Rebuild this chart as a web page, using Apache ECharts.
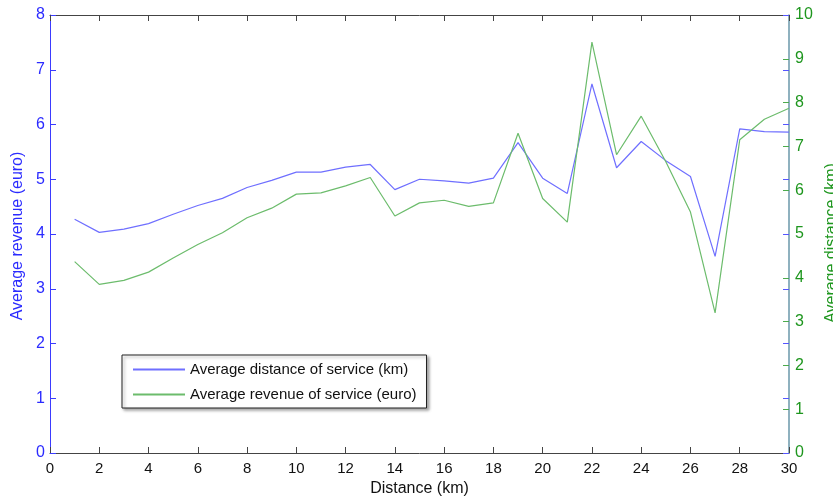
<!DOCTYPE html>
<html>
<head>
<meta charset="utf-8">
<script src="https://cdn.jsdelivr.net/npm/echarts@6/dist/echarts.min.js"></script>
<style>html,body{margin:0;padding:0;background:#fff}#c{width:833px;height:497px}</style>
</head>
<body>
<div id="c"></div>
<script>
const distances = [1,2,3,4,5,6,7,8,9,10,11,12,13,14,15,16,17,18,19,20,21,22,23,24,25,26,27,28,29,30];
const blueValues = [4.27,4.03,4.09,4.19,4.36,4.52,4.65,4.85,4.98,5.13,5.13,5.22,5.27,4.81,5.00,4.97,4.93,5.02,5.67,5.02,4.74,6.74,5.21,5.69,5.34,5.05,3.59,5.92,5.87,5.86];
const greenValues = [4.37,3.85,3.94,4.13,4.45,4.76,5.03,5.37,5.59,5.91,5.94,6.10,6.29,5.41,5.71,5.77,5.63,5.71,7.30,5.81,5.27,9.38,6.81,7.69,6.65,5.50,3.20,7.15,7.62,7.87];
const xTicks = [0,2,4,6,8,10,12,14,16,18,20,22,24,26,28,30];
const leftTicks = [0,1,2,3,4,5,6,7,8];
const rightTicks = [0,1,2,3,4,5,6,7,8,9,10];
const blueName = 'Average distance of service (km)';
const greenName = 'Average revenue of service (euro)';

const FONT = 'Liberation Sans, Arial, sans-serif';
const BLUE_TXT = '#2b2bff';
const GREEN_TXT = '#1e961e';
const BLUE_LINE = '#6f6fff';
const GREEN_LINE = '#6cbc6c';

const gridBox = {left: 50, right: 44, top: 15, bottom: 44, containLabel: false, outerBoundsMode: 'none'};

const chart = echarts.init(document.getElementById('c'), null, {renderer: 'canvas'});
chart.setOption({
  animation: false,
  backgroundColor: '#fff',
  grid: [Object.assign({}, gridBox), Object.assign({}, gridBox)],
  legend: {
    orient: 'vertical',
    left: 122, top: 355,
    padding: [7, 10, 6, 10],
    itemWidth: 52, itemHeight: 14, itemGap: 10,
    backgroundColor: '#fff',
    borderColor: '#222', borderWidth: 1,
    shadowColor: 'rgba(0,0,0,0.35)', shadowBlur: 3, shadowOffsetX: 2, shadowOffsetY: 2,
    itemStyle: {opacity: 0},
    textStyle: {fontFamily: FONT, fontSize: 15, color: '#111'},
    data: [blueName, greenName]
  },
  xAxis: [{
    gridIndex: 0,
    type: 'value', min: xTicks[0], max: xTicks[xTicks.length-1], interval: 2,
    position: 'bottom',
    name: 'Distance (km)', nameLocation: 'middle', nameGap: 28,
    nameTextStyle: {fontFamily: FONT, fontSize: 16, color: '#111'},
    axisLine: {onZero: false, lineStyle: {color: '#444', width: 1}},
    axisTick: {inside: true, length: 6, lineStyle: {color: '#444'}},
    axisLabel: {fontFamily: FONT, fontSize: 15, color: '#111', margin: 8},
    splitLine: {show: false}
  }, {
    gridIndex: 0,
    type: 'value', min: xTicks[0], max: xTicks[xTicks.length-1], interval: 2,
    position: 'top',
    axisLine: {onZero: false, lineStyle: {color: '#444', width: 1}},
    axisTick: {inside: true, length: 6, lineStyle: {color: '#444'}},
    axisLabel: {show: false},
    splitLine: {show: false}
  }, {
    gridIndex: 1,
    type: 'value', min: xTicks[0], max: xTicks[xTicks.length-1], interval: 2,
    show: false
  }],
  yAxis: [{
    gridIndex: 0,
    type: 'value', min: leftTicks[0], max: leftTicks[leftTicks.length-1], interval: 1,
    position: 'left',
    name: 'Average revenue (euro)', nameLocation: 'middle', nameGap: 23, nameRotate: 90,
    nameTextStyle: {fontFamily: FONT, fontSize: 16, color: BLUE_TXT, padding: [0, 4, 0, 0]},
    axisLine: {show: true, onZero: false, lineStyle: {color: '#3b3bff', width: 1}},
    axisTick: {show: true, inside: true, length: 6, lineStyle: {color: '#3b3bff'}},
    axisLabel: {fontFamily: FONT, fontSize: 16, color: BLUE_TXT, margin: 5},
    splitLine: {show: false}
  }, {
    gridIndex: 0,
    type: 'value', min: rightTicks[0], max: rightTicks[rightTicks.length-1], interval: 1,
    position: 'right',
    name: 'Average distance (km)', nameLocation: 'middle', nameGap: 25, nameRotate: 90,
    nameTextStyle: {fontFamily: FONT, fontSize: 16, color: GREEN_TXT, padding: [0, 18, 0, 0]},
    axisLine: {show: true, onZero: false, lineStyle: {color: '#6a97aa', width: 1.5}},
    axisTick: {show: true, inside: true, length: 6, lineStyle: {color: '#4caa4c'}},
    axisLabel: {fontFamily: FONT, fontSize: 16, color: GREEN_TXT, margin: 6},
    splitLine: {show: false}
  }, {
    gridIndex: 1,
    type: 'value', min: leftTicks[0], max: leftTicks[leftTicks.length-1], interval: 1,
    position: 'right',
    axisLine: {show: false, onZero: false},
    axisTick: {show: true, inside: true, length: 6, lineStyle: {color: '#5555ff'}},
    axisLabel: {show: false},
    splitLine: {show: false}
  }],
  series: [{
    name: blueName, type: 'line', xAxisIndex: 0, yAxisIndex: 0,
    data: distances.map((d, i) => [d, blueValues[i]]),
    symbol: 'none', lineStyle: {color: BLUE_LINE, width: 1.2}, itemStyle: {color: BLUE_LINE}
  }, {
    name: greenName, type: 'line', xAxisIndex: 0, yAxisIndex: 1,
    data: distances.map((d, i) => [d, greenValues[i]]),
    symbol: 'none', lineStyle: {color: GREEN_LINE, width: 1.2}, itemStyle: {color: GREEN_LINE}
  }]
});
</script>
</body>
</html>
